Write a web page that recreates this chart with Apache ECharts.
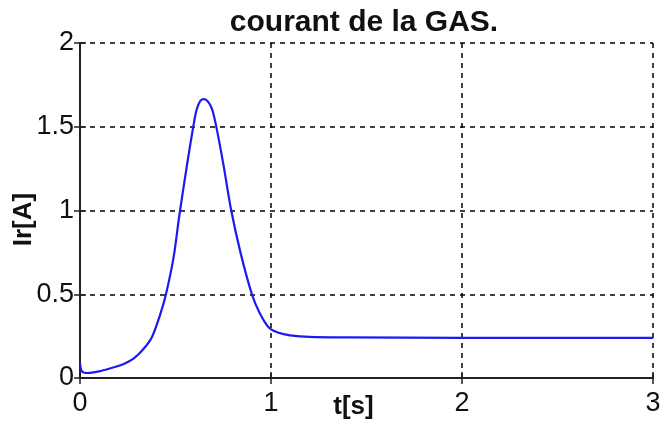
<!DOCTYPE html>
<html>
<head>
<meta charset="utf-8">
<script src="https://cdn.jsdelivr.net/npm/echarts@6/dist/echarts.min.js"></script>
<style>
  html, body { margin: 0; padding: 0; background: #fff; }
  #chart { width: 664px; height: 427px; }
</style>
</head>
<body>
<div id="chart"></div>
<script>
// Rotor current of the induction machine during start-up
const timeS = [0, 0.01, 0.04, 0.1, 0.16, 0.2, 0.24, 0.28, 0.33, 0.375, 0.42, 0.45, 0.49, 0.52, 0.56, 0.59, 0.61, 0.63, 0.65, 0.67, 0.69, 0.71, 0.75, 0.79, 0.84, 0.9, 0.94, 0.99, 1.04, 1.1, 1.2, 1.4, 2.0, 3.0];
const currentA = [0.09, 0.04, 0.03, 0.04, 0.058, 0.072, 0.09, 0.115, 0.17, 0.24, 0.38, 0.5, 0.72, 0.97, 1.27, 1.48, 1.6, 1.655, 1.665, 1.65, 1.61, 1.52, 1.28, 1.01, 0.75, 0.5, 0.39, 0.3, 0.27, 0.255, 0.245, 0.242, 0.24, 0.24];
const xTicks = [0, 1, 2, 3];
const yTicks = [0, 0.5, 1, 1.5, 2];

const chart = echarts.init(document.getElementById('chart'), null, { renderer: 'canvas' });
const font = 'Liberation Sans, Arial, sans-serif';
const gridLine = { show: true, lineStyle: { color: '#000', width: 1.5, type: [5, 5] } };
const frameLine = { show: true, lineStyle: { color: '#222', width: 2 } };
const innerTick = { show: true, inside: true, length: 6, lineStyle: { color: '#222', width: 1.5 } };

chart.setOption({
  animation: false,
  backgroundColor: '#fff',
  title: {
    text: 'courant de la GAS.',
    left: 359, top: 3, textAlign: 'center',
    textStyle: { fontFamily: font, fontWeight: 'bold', fontSize: 30, color: '#111' }
  },
  grid: { left: 80, right: 11, top: 43, bottom: 49, show: false, containLabel: false, outerBoundsMode: 'none' },
  xAxis: [{
    type: 'value', min: xTicks[0], max: xTicks[xTicks.length - 1], interval: 1,
    axisLine: frameLine, axisTick: innerTick, splitLine: gridLine,
    axisLabel: { fontFamily: font, fontSize: 27, color: '#111', margin: 12 },
    name: 't[s]', nameLocation: 'middle', nameGap: 16, nameMoveOverlap: false,
    nameTextStyle: { fontFamily: font, fontWeight: 'bold', fontSize: 26, color: '#111', padding: [0, 26, 0, 0] }
  }, {
    type: 'value', position: 'top', min: xTicks[0], max: xTicks[xTicks.length - 1], interval: 1,
    axisLine: frameLine, axisTick: innerTick, splitLine: { show: false }, axisLabel: { show: false }
  }],
  yAxis: [{
    type: 'value', min: yTicks[0], max: yTicks[yTicks.length - 1], interval: 0.5,
    axisLine: frameLine, axisTick: innerTick, splitLine: gridLine,
    axisLabel: { fontFamily: font, fontSize: 27, color: '#111', margin: 6 },
    name: 'Ir[A]', nameLocation: 'middle', nameGap: 43, nameMoveOverlap: false,
    nameTextStyle: { fontFamily: font, fontWeight: 'bold', fontSize: 26, color: '#111', padding: [0, 18, 0, 0] }
  }, {
    type: 'value', position: 'right', min: yTicks[0], max: yTicks[yTicks.length - 1], interval: 0.5,
    axisLine: frameLine, axisTick: innerTick, splitLine: { show: false }, axisLabel: { show: false }
  }],
  series: [{
    type: 'line',
    data: timeS.map((t, i) => [t, currentA[i]]),
    showSymbol: false,
    smooth: 0.3,
    lineStyle: { color: '#1a1af2', width: 2.2 },
    z: 5
  }]
});
</script>
</body>
</html>
